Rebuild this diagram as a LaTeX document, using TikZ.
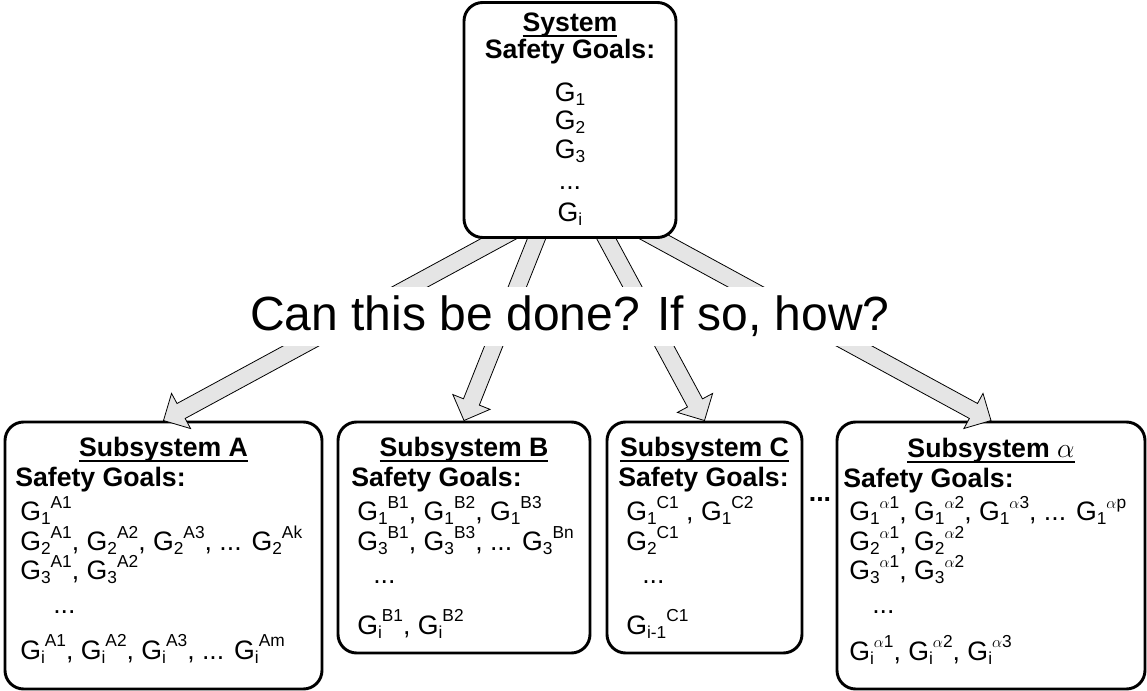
\documentclass[tikz,border=0pt]{standalone}
\usepackage{fontspec}
\setmainfont{Liberation Sans}
\usetikzlibrary{calc}

% small script size for indices
\newcommand\scr{\fontsize{13}{13}\selectfont}
% goal with subscript followed by superscript
\newcommand\Gg[2]{G\raisebox{-3pt}{\scr #1}\raisebox{9.5pt}{\scr #2}}
% goal with subscript only
\newcommand\Gs[1]{G\raisebox{-3pt}{\scr #1}}
% thick underline for box titles
\newcommand\ulbar[1]{\setbox0=\hbox{#1}\rlap{\rule[-4pt]{\wd0}{1.5pt}}\box0}
% wide outlined block arrow from #1 to #2
\newcommand\blockarrow[2]{%
  \coordinate (bh) at ($(#2)!15pt!(#1)$);
  \draw[blockarr] (#2) -- ($(bh)!15pt!90:(#2)$) -- ($(bh)!6.4pt!90:(#2)$)
     -- ($(#1)!6.4pt!90:(#2)$) -- ($(#1)!6.4pt!-90:(#2)$)
     -- ($(bh)!6.4pt!-90:(#2)$) -- ($(bh)!15pt!-90:(#2)$) -- cycle;
}

\begin{document}
\begin{tikzpicture}[x=0.75pt, y=-0.75pt,
  box/.style={draw, line width=2.2pt, rounded corners=14pt, fill=white,
              inner sep=0pt, rectangle},
  blockarr/.style={draw, line width=0.6pt, fill=black!10, line join=miter},
  title/.style={anchor=base, inner sep=0pt, font=\fontsize{20}{24}\selectfont\bfseries},
  head/.style={anchor=base west, inner sep=0pt, font=\fontsize{20}{24}\selectfont\bfseries},
  goalc/.style={anchor=base, inner sep=0pt, font=\fontsize{20}{24}\selectfont},
  goal/.style={anchor=base west, inner sep=0pt, font=\fontsize{20}{24}\selectfont}]
\useasboundingbox (0,0) rectangle (1147,691);

% ---- subsystem frames ----
\path (163.5,555.5) node[box, minimum width={317*0.75pt}, minimum height={267*0.75pt}] (subA) {};
\path (464,537.5) node[box, minimum width={252*0.75pt}, minimum height={231*0.75pt}] (subB) {};
\path (704.5,537.5) node[box, minimum width={195*0.75pt}, minimum height={231*0.75pt}] (subC) {};
\path (991,555.5) node[box, minimum width={308*0.75pt}, minimum height={267*0.75pt}] (subZ) {};

% ---- arrows, starting behind the system box ----
\coordinate (aS) at (524,225);
\coordinate (bS) at (542,225);
\coordinate (cS) at (599,225);
\coordinate (dS) at (632,225);
\blockarrow{aS}{subA.north}
\blockarrow{bS}{subB.north}
\blockarrow{cS}{subC.north}
\blockarrow{dS}{subZ.north}

% ---- question across the arrows ----
\node[fill=white, inner sep=0pt, minimum height=44.25pt,
      font=\fontsize{36}{40}\selectfont] (q) at (570,316.5) {Can this be done? If so, how?};

% ---- system frame over the arrow tails ----
\path (570,120) node[box, minimum width={212*0.75pt}, minimum height={235*0.75pt}] (sys) {};

% ---- system ----
\node[title] (sysT) at (570,32) {\ulbar{System}};
\node[title] (sysH) at (570,59) {Safety Goals:};
\node[goalc] (sys1) at (570,102) {\Gs{1}};
\node[goalc] (sys2) at (570,130) {\Gs{2}};
\node[goalc] (sys3) at (570,159) {\Gs{3}};
\node[goalc] (sysd) at (570,190) {...};
\node[goalc] (sysi) at (570,222) {\Gs{i}};

% ---- subsystem A ----
\node[title] (aT) at (163.5,457) {\ulbar{Subsystem A}};
\node[head] (aH) at (15,487) {Safety Goals:};
\node[goal] (a1) at (20,521) {\Gg{1}{A1}};
\node[goal] (a2) at (20,551) {\Gg{2}{A1}, \Gg{2}{A2}, \Gg{2}{A3}, ... \Gg{2}{Ak}};
\node[goal] (a3) at (20,580) {\Gg{3}{A1}, \Gg{3}{A2}};
\node[goal] (ad) at (53,614) {...};
\node[goal] (ai) at (20,659) {\Gg{i}{A1}, \Gg{i}{A2}, \Gg{i}{A3}, ... \Gg{i}{Am}};

% ---- subsystem B ----
\node[title] (bT) at (464,457) {\ulbar{Subsystem B}};
\node[head] (bH) at (351,487) {Safety Goals:};
\node[goal] (b1) at (357,521) {\Gg{1}{B1}, \Gg{1}{B2}, \Gg{1}{B3}};
\node[goal] (b3) at (357,551) {\Gg{3}{B1}, \Gg{3}{B3}, ... \Gg{3}{Bn}};
\node[goal] (bd) at (373,584) {...};
\node[goal] (bi) at (357,634) {\Gg{i}{B1}, \Gg{i}{B2}};

% ---- subsystem C ----
\node[title] (cT) at (704.5,457) {\ulbar{Subsystem C}};
\node[head] (cH) at (618,487) {Safety Goals:};
\node[goal] (c1) at (626,521) {\Gg{1}{C1} , \Gg{1}{C2}};
\node[goal] (c2) at (626,551) {\Gg{2}{C1}};
\node[goal] (cd) at (642,584) {...};
\node[goal] (ci) at (626,634) {\Gg{i-1}{C1}};

% ---- gap marker ----
\node[title] (gap) at (820,502) {...};

% ---- subsystem alpha ----
\node[title] (zT) at (991,458) {\ulbar{Subsystem $\alpha$}};
\node[head] (zH) at (843,488) {Safety Goals:};
\node[goal] (z1) at (849,521) {\Gg{1}{$\alpha$1}, \Gg{1}{$\alpha$2}, \Gg{1}{$\alpha$3}, ... \Gg{1}{$\alpha$p}};
\node[goal] (z2) at (849,551) {\Gg{2}{$\alpha$1}, \Gg{2}{$\alpha$2}};
\node[goal] (z3) at (849,580) {\Gg{3}{$\alpha$1}, \Gg{3}{$\alpha$2}};
\node[goal] (zd) at (872,614) {...};
\node[goal] (zi) at (849,660) {\Gg{i}{$\alpha$1}, \Gg{i}{$\alpha$2}, \Gg{i}{$\alpha$3}};
\end{tikzpicture}
\end{document}
